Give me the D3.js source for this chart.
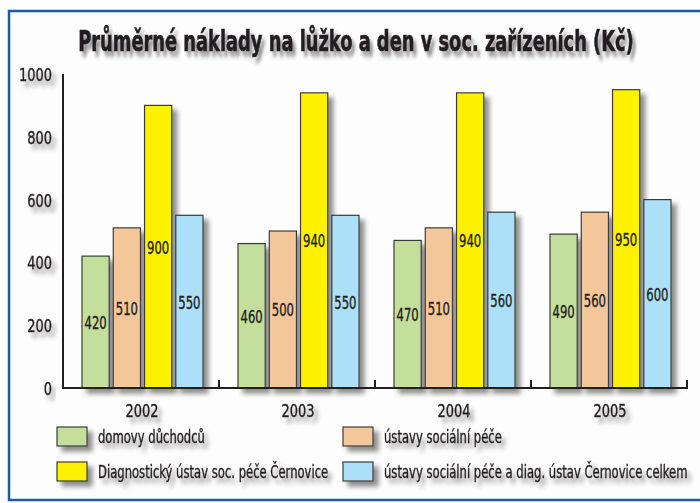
<!DOCTYPE html>
<html>
<head>
<meta charset="utf-8">
<script src="https://cdn.jsdelivr.net/npm/d3@7"></script>
<style>
  body { margin: 0; background: #fff; }
  svg text { font-family: "DejaVu Sans Condensed", "Liberation Sans Narrow", sans-serif; fill: #231f20; stroke: #231f20; stroke-width: 0.35px; }
</style>
</head>
<body>
<svg id="chart" width="700" height="503"></svg>
<script>
const years = ["2002", "2003", "2004", "2005"]
const seriesNames = ["domovy důchodců", "ústavy sociální péče", "Diagnostický ústav soc. péče Černovice", "ústavy sociální péče a diag. ústav Černovice celkem"]
const domovy = [420, 460, 470, 490]
const ustavy = [510, 500, 510, 560]
const diagnosticky = [900, 940, 940, 950]
const celkem = [550, 550, 560, 600]
const yTicks = [0, 200, 400, 600, 800, 1000]
const colors = ["#c4df9b", "#f4c79b", "#fff200", "#abe0f8"]
const title = "Průměrné náklady na lůžko a den v soc. zařízeních (Kč)"

const series = [domovy, ustavy, diagnosticky, celkem]

const svg = d3.select("#chart")
const defs = svg.append("defs")
const f = defs.append("filter").attr("id", "shadow")
    .attr("x", "-20%").attr("y", "-30%").attr("width", "160%").attr("height", "180%")
f.append("feGaussianBlur").attr("in", "SourceAlpha").attr("stdDeviation", 2.5).attr("result", "blur")
f.append("feOffset").attr("in", "blur").attr("dx", 5).attr("dy", 5).attr("result", "off")
f.append("feComponentTransfer").attr("in", "off").attr("result", "fade")
    .append("feFuncA").attr("type", "linear").attr("slope", 0.45)
const fm = f.append("feMerge")
fm.append("feMergeNode").attr("in", "fade")
fm.append("feMergeNode").attr("in", "SourceGraphic")

// frame
svg.append("rect")
    .attr("x", 9).attr("y", 11).attr("width", 700).attr("height", 489)
    .attr("fill", "#fdfdfd").attr("stroke", "#1f5aa6").attr("stroke-width", 2.5)

const plotLeft = 63, plotRight = 687, plotTop = 74, plotBottom = 388

const x0 = d3.scaleBand().domain(years).range([plotLeft, plotRight])
const x1 = d3.scaleBand().domain(d3.range(series.length))
    .range([19, x0.bandwidth() - 16]).paddingInner(0.13)
const y = d3.scaleLinear().domain([0, 1000]).range([plotBottom, plotTop])

// squeeze text horizontally around its anchor x, the original uses a condensed face
function condense(sel, k) {
    sel.each(function() {
        const ax = +this.getAttribute("x")
        d3.select(this).attr("transform", `translate(${ax * (1 - k)},0) scale(${k},1)`)
    })
}

// title
svg.append("text")
    .attr("x", 356).attr("y", 51)
    .attr("text-anchor", "middle")
    .attr("font-size", 29).attr("font-weight", "bold")
    .style("stroke-width", "0.6px")
    .attr("filter", "url(#shadow)")
    .text(title)
    .each(function() {
        const k = 556 / this.getComputedTextLength()
        d3.select(this).call(condense, k)
    })

// grid
svg.append("g").selectAll("line")
    .data(yTicks.filter(d => d > 0))
    .join("line")
    .attr("x1", plotLeft).attr("x2", plotRight)
    .attr("y1", d => y(d)).attr("y2", d => y(d))
    .attr("stroke", "#3a3a3a").attr("stroke-width", 1.3)
    .attr("filter", "url(#shadow)")

// y labels
svg.append("g").selectAll("text")
    .data(yTicks)
    .join("text")
    .attr("x", 52).attr("y", d => y(d) + 7)
    .attr("text-anchor", "end")
    .attr("font-size", 18)
    .attr("filter", "url(#shadow)")
    .text(d => d)
    .call(condense, 0.8)

// bars
const groups = svg.append("g").selectAll("g")
    .data(years)
    .join("g")
    .attr("transform", d => `translate(${x0(d)},0)`)

groups.selectAll("rect")
    .data((d, i) => series.map((s, k) => ({ k: k, v: s[i] })))
    .join("rect")
    .attr("x", d => x1(d.k))
    .attr("y", d => y(d.v))
    .attr("width", x1.bandwidth())
    .attr("height", d => plotBottom - y(d.v))
    .attr("fill", d => colors[d.k])
    .attr("stroke", "#3b3b3b").attr("stroke-width", 1.2)
    .attr("filter", "url(#shadow)")

groups.selectAll("text")
    .data((d, i) => series.map((s, k) => ({ k: k, v: s[i] })))
    .join("text")
    .attr("x", d => x1(d.k) + x1.bandwidth() / 2)
    .attr("y", d => (y(d.v) + plotBottom) / 2 + 7)
    .attr("text-anchor", "middle")
    .attr("font-size", 17)
    .text(d => d.v)
    .call(condense, 0.76)

// axes
const axisG = svg.append("g").attr("fill", "none").attr("stroke", "#231f20").attr("stroke-width", 2)
axisG.append("path")
    .attr("d", `M${plotLeft},${plotTop}V${plotBottom}H${plotRight}V${plotBottom - 8}`)
axisG.selectAll("line.tick")
    .data(years.slice(1))
    .join("line")
    .attr("x1", d => x0(d)).attr("x2", d => x0(d))
    .attr("y1", plotBottom).attr("y2", plotBottom - 8)

// x labels
svg.append("g").selectAll("text")
    .data(years)
    .join("text")
    .attr("x", d => x0(d) + x0.bandwidth() / 2 + 1)
    .attr("y", 417)
    .attr("text-anchor", "middle")
    .attr("font-size", 18)
    .attr("filter", "url(#shadow)")
    .text(d => d)
    .call(condense, 0.8)

// legend
const legendPos = [[57, 427], [343, 427], [57, 462], [343, 462]]
const lg = svg.append("g").selectAll("g")
    .data(seriesNames)
    .join("g")
    .attr("transform", (d, i) => `translate(${legendPos[i][0]},${legendPos[i][1]})`)
lg.append("rect")
    .attr("width", 30).attr("height", 19)
    .attr("fill", (d, i) => colors[i])
    .attr("stroke", "#3b3b3b").attr("stroke-width", 1.2)
    .attr("filter", "url(#shadow)")
lg.append("text")
    .attr("x", 41).attr("y", 16)
    .attr("font-size", 17)
    .attr("filter", "url(#shadow)")
    .text(d => d)
    .call(condense, 0.76)
</script>
</body>
</html>
